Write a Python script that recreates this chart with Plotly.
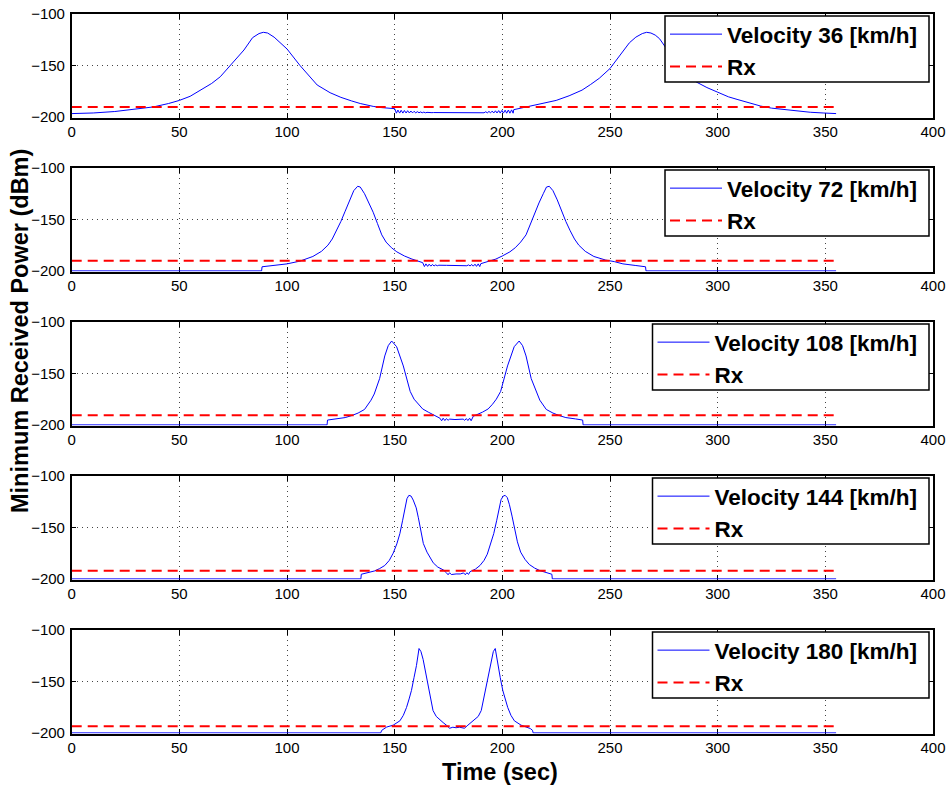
import plotly.graph_objects as go

# ---------------------------------------------------------------------------
# Data: minimum received power over time for five train velocities
# ---------------------------------------------------------------------------
velocities_kmh = [36, 72, 108, 144, 180]
rx_dbm = [-190.4, -190.2, -190.7, -192.2, -193.5]   # receiver sensitivity per run
rx_span_sec = [0, 355]

x_ticks = [0, 50, 100, 150, 200, 250, 300, 350, 400]
y_ticks = [-200, -150, -100]

t_v36 = [0, 10, 20, 30, 38, 45, 50, 55, 61, 65, 69, 75, 80, 84, 87, 89, 91, 94, 97, 100,
         106, 110, 114, 120, 125, 130, 134, 140, 144, 150,
         150.8, 151.5, 152.3, 153, 153.8, 154.5, 155.3, 156, 156.8, 157.5, 158.3, 159,
         159.8, 160.5, 161.3, 162, 162.8, 163.5, 164.3, 165, 165.8, 166.5, 167.3, 168,
         172, 176, 180, 184, 187,
         187.8, 188.5, 189.3, 190, 190.8, 191.5, 192.3, 193, 193.8, 194.5, 195.3, 196,
         196.8, 197.5, 198.3, 199, 199.8, 200.5, 201.3, 202, 202.8, 203.5, 204.3, 205,
         205.3, 208, 212, 216, 220, 225, 231, 237, 241, 245, 250, 253, 256, 259, 262, 265,
         267, 269, 271, 273, 277, 281, 285, 290, 295, 300, 305, 309, 315, 320, 325, 331,
         337, 343, 349, 355]
p_v36 = [-196.8, -196.2, -194.8, -192.3, -190.3, -187, -184, -180, -173, -167.5, -161, -147,
         -135, -123, -119, -117.8, -118.5, -122.5, -128, -134, -150, -160, -169, -176.5,
         -181, -184.5, -187, -189.8, -191, -192,
         -196.4, -193.4, -196.3, -193.6, -196.3, -193.8, -196.2, -194.0, -196.2, -194.3,
         -196.1, -194.6, -196.1, -194.9, -196.0, -195.2, -196.0, -195.4, -196.0, -195.6,
         -195.9, -195.7, -195.9, -195.8,
         -195.8, -195.9, -195.9, -195.8, -195.8,
         -195.7, -195.9, -195.5, -196.0, -195.3, -196.0, -195.0, -196.1, -194.7, -196.1,
         -194.4, -196.2, -194.1, -196.2, -193.9, -196.3, -193.7, -196.3, -193.5, -196.4,
         -193.3, -196.4, -193.2, -196.4,
         -193, -191.8, -190.3, -188.7, -186.7, -184, -179.5, -174, -168.5, -162.5, -153,
         -145, -136, -128, -122.5, -119, -117.8, -118.5, -120.5, -124, -136, -147, -157,
         -166, -171.5, -176, -180.5, -183, -186.5, -189.5, -191.5, -193, -194.5, -195.5,
         -196.2, -196.8]

t_v72 = [0, 88.2, 88.4, 95, 100, 106, 112, 116, 119, 121, 123, 125, 127, 129, 131, 132.8,
         134, 136, 138, 140, 142, 144, 146, 148.5, 151, 154.5, 158, 161, 163,
         163.8, 164.5, 165.3, 166, 166.8, 167.5, 168.3, 169, 169.8, 170.5,
         174, 178, 182,
         182.8, 183.5, 184.3, 185, 185.8, 186.5, 187.3, 188, 188.8, 189.5,
         190, 193, 197, 200, 203.5, 206, 208.5, 211, 213, 215, 217, 219, 220.5, 221.8,
         223.5, 225.5, 227.5, 229.5, 231.5, 233.5, 235.5, 238.5, 242.5, 248, 252, 256,
         262, 266.5, 266.7, 355]
p_v72 = [-200, -200, -196, -194.5, -193.2, -190.5, -186, -181, -175, -169, -161, -152, -142,
         -131, -122, -117.8, -118.5, -125, -134, -143, -154, -165, -172, -177.5, -181.5,
         -185.5, -188.5, -190.5, -192,
         -195.8, -193.2, -195.6, -193.5, -195.4, -193.8, -195.2, -194.2, -195.0, -194.5,
         -194.6, -194.7, -194.6,
         -194.5, -195.0, -194.2, -195.2, -193.8, -195.4, -193.5, -195.6, -193.2, -195.8,
         -193, -191, -188.5, -185.5, -181.5, -177.5, -172, -165, -154, -143, -134, -125,
         -118.5, -117.8, -122, -131, -142, -152, -161, -169, -175, -181, -186, -189.5,
         -191, -193.2, -194.8, -196, -200, -200]

t_v108 = [0, 118.6, 118.8, 122, 127, 130, 133, 136, 139, 140.5, 143, 145.4, 147, 148.6,
          150.9, 154, 157.2, 159, 161, 163, 165.6, 169.5, 171,
          171.8, 172.5, 173.3, 174, 174.8, 175.5,
          178, 181,
          181.8, 182.5, 183.3, 184, 184.8, 185.5,
          186.5, 190.8, 193.4, 195.4, 197.2, 199.2, 202.4, 205.5, 207.8, 209.4, 211, 213.4,
          216, 217.4, 220.4, 223.5, 226.5, 229.5, 234, 237.3, 237.5, 355]
p_v108 = [-200, -200, -195.3, -194.2, -192.9, -191, -188.5, -185, -176, -170, -155, -133,
          -123, -118.5, -124, -142.7, -167.5, -175, -180, -184.5, -187.6, -191.6, -193.5,
          -196, -193.5, -195.8, -193.9, -195.5, -194.4,
          -194.8, -194.8,
          -194.4, -195.5, -193.9, -195.8, -193.5, -196,
          -191.6, -187.6, -184.5, -180, -175, -167.5, -142.7, -124, -118.5, -123, -133,
          -155, -170, -176, -185, -188.5, -191, -192.9, -194.2, -195.3, -200, -200]

t_v144 = [0, 134.3, 134.5, 138, 140.8, 143, 145.4, 147.5, 149.3, 151, 152.4, 153.7, 154.7,
          155.7, 156.6, 157.6, 158.6, 160, 161, 162.2, 163.3, 165, 166.5, 167.9, 170, 172.6,
          174,
          174.8, 175.5, 176.3,
          178.5, 180.5,
          182, 182.8, 183.5, 184.3,
          185, 187.5, 189.6, 191.5, 193, 194.5, 196, 197.4, 198.4, 199.4, 200.4, 201.3,
          202.3, 203.3, 204.5, 205.7, 207, 208.5, 210.5, 212.5, 215, 217.5, 220, 223,
          223.2, 355]
p_v144 = [-200, -200, -195.5, -194, -192.2, -190, -187, -182, -175, -166, -156, -143, -131,
          -122, -118.8, -119.5, -123.4, -131, -140.6, -153, -165.6, -174, -180, -184.4,
          -188.5, -191.3, -194,
          -196, -194, -195.8,
          -195.2, -195.2,
          -194.2, -196, -194, -195.6,
          -193, -190.5, -187, -182, -176, -167, -156, -143, -132, -123, -119.5, -118.8,
          -121, -128, -139, -152, -164, -174, -181, -186, -189.5, -192, -193.5, -195.5,
          -200, -200]

t_v180 = [0, 143.5, 144, 145, 146.3, 149.3, 152.4, 154, 155.5, 156.7, 157.8, 159, 160.1,
          161.3, 162.2, 163.2, 164.3, 165.5, 166.7, 167.8, 169.3, 170.9, 172.5, 174, 175.5,
          177, 178.5, 180.1, 181.2, 182.4, 184, 185.5, 187.2, 188.8, 190.2, 191.3, 192.5,
          193.7, 194.8, 195.8, 196.7, 197.9, 199, 200.2, 201.3, 202.5, 204, 205.6, 208.7,
          211.7, 213, 214, 214.3, 355]
p_v180 = [-200, -200, -197.5, -195.8, -194.3, -192.5, -188.3, -183, -175.3, -167, -158.7,
          -146, -134.6, -118, -121, -128.6, -140, -152.7, -167, -178.3, -184, -187.3, -190,
          -192.5, -195.5, -194.5, -195, -194.5, -195, -195.5, -192.5, -190, -187.3, -184,
          -178.3, -167, -152.7, -140, -128.6, -121, -118, -134.6, -146, -158.7, -167,
          -175.3, -183, -188.3, -192.5, -194.3, -195.8, -197.5, -200, -200]

series_t = [t_v36, t_v72, t_v108, t_v144, t_v180]
series_p = [p_v36, p_v72, p_v108, p_v144, p_v180]

# ---------------------------------------------------------------------------
# Layout geometry (pixels in a 949 x 787 page)
# ---------------------------------------------------------------------------
W, H = 949, 787
PLOT_L, PLOT_R = 71.7, 933.0
TOP0, PITCH, PANEL_H = 14.0, 154.0, 103.5
BOX_RIGHT = 929.0
BOX_H = 66.0
DIGIT_W = 12.5

FONT = "Liberation Sans, Arial, Helvetica, sans-serif"

fig = go.Figure()
shapes = []

for i, v in enumerate(velocities_kmh):
    n = i + 1
    sfx = "" if n == 1 else str(n)
    leg = "legend" if n == 1 else f"legend{n}"
    top = TOP0 + i * PITCH
    bot = top + PANEL_H

    fig.add_trace(go.Scatter(
        x=series_t[i], y=series_p[i], mode="lines",
        line=dict(color="#0000ff", width=1),
        name=f"Velocity {v} [km/h]",
        xaxis=f"x{sfx}", yaxis=f"y{sfx}", legend=leg,
    ))
    fig.add_trace(go.Scatter(
        x=rx_span_sec, y=[rx_dbm[i], rx_dbm[i]], mode="lines",
        line=dict(color="#ff0000", width=2, dash="10px,6px"),
        name="Rx",
        xaxis=f"x{sfx}", yaxis=f"y{sfx}", legend=leg,
    ))

    axis_style = dict(
        showline=True, linecolor="black", linewidth=1.5, mirror="ticks",
        ticks="inside", ticklen=5, tickwidth=1, tickcolor="black",
        showgrid=True, gridcolor="#444444", gridwidth=1, griddash="1px,4px",
        zeroline=False, layer="below traces", automargin=False,
        tickfont=dict(family=FONT, size=15, color="black"),
        fixedrange=True,
    )

    # opaque framed box behind each legend
    box_left = BOX_RIGHT - 264 - DIGIT_W * (len(str(v)) - 2)
    box_top = top + 2
    shapes.append(dict(
        type="rect", xref="paper", yref="paper", layer="above",
        x0=box_left / W, x1=BOX_RIGHT / W,
        y0=1 - (box_top + BOX_H) / H, y1=1 - box_top / H,
        fillcolor="white", line=dict(color="black", width=1.5),
    ))

    fig.update_layout(**{
        f"xaxis{sfx}": dict(
            axis_style, domain=[PLOT_L / W, PLOT_R / W], anchor=f"y{sfx}",
            range=[0, 400], tickmode="array", tickvals=x_ticks,
        ),
        f"yaxis{sfx}": dict(
            axis_style, domain=[1 - bot / H, 1 - top / H], anchor=f"x{sfx}",
            range=[-200.6, -100], tickmode="array", tickvals=y_ticks,
            ticklabelstandoff=2,
        ),
        leg: dict(
            x=box_left / W, y=1 - (box_top - 3) / H,
            xanchor="left", yanchor="top",
            bgcolor="rgba(0,0,0,0)", borderwidth=0,
            font=dict(family=FONT, size=22.5, color="black", weight="bold"),
            itemwidth=52, tracegroupgap=0,
        ),
    })

fig.update_layout(
    template="none",
    width=W, height=H, autosize=False,
    margin=dict(l=0, r=0, t=0, b=0, pad=0),
    paper_bgcolor="white", plot_bgcolor="white",
    font=dict(family=FONT, color="black"),
    shapes=shapes,
    annotations=[
        dict(text="<b>Time (sec)</b>", x=500 / W, y=1 - 772 / H,
             xref="paper", yref="paper", showarrow=False,
             xanchor="center", yanchor="middle",
             font=dict(family=FONT, size=23.5, color="black")),
        dict(text="<b>Minimum Received Power (dBm)</b>", x=20 / W, y=1 - 331 / H,
             xref="paper", yref="paper", showarrow=False, textangle=-90,
             xanchor="center", yanchor="middle",
             font=dict(family=FONT, size=23.5, color="black")),
    ],
)

fig.write_html("out.html")
